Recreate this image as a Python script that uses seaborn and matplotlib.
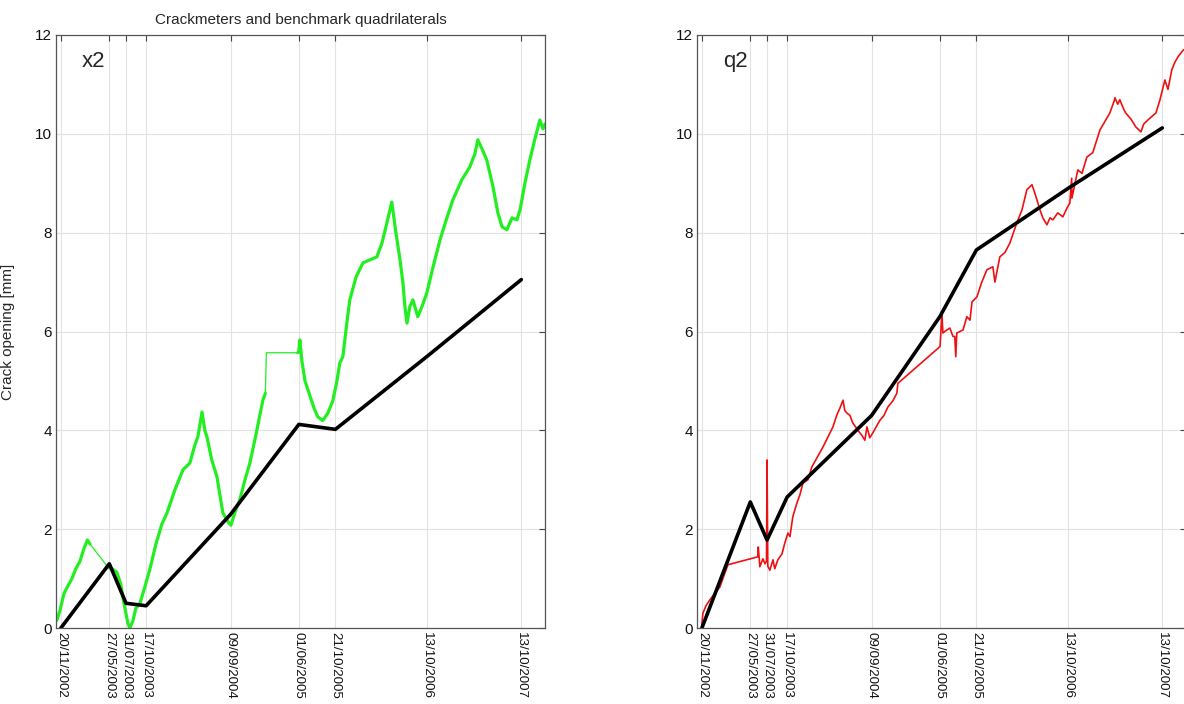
import pandas as pd
import matplotlib
matplotlib.use('Agg')
import matplotlib.pyplot as plt
import matplotlib.dates as mdates
import seaborn as sns

# day 0 = first crackmeter reading
start = pd.Timestamp('2002-11-20')

# benchmark quadrilateral survey dates (also used as x ticks)
survey_dates = ['20/11/2002', '27/05/2003', '31/07/2003', '17/10/2003', '09/09/2004',
                '01/06/2005', '21/10/2005', '13/10/2006', '13/10/2007']
x2_bench = [0.0, 1.3, 0.5, 0.45, 2.3, 4.12, 4.02, 5.5, 7.05]
q2_bench = [0.0, 2.55, 1.78, 2.65, 4.3, 6.3, 7.65, 8.9, 10.12]

# crackmeter x2 (days since start, mm)
x2_days = [-16, -4, 12, 27, 43, 58, 74, 89, 103, 113, 183, 198, 217, 232, 245, 260, 268, 280,
           291, 307, 326, 346, 369, 392, 412, 443, 474, 501, 520, 532, 548, 559, 567, 586, 606,
           629, 649, 660, 680, 695, 715, 734, 757, 784, 794, 798, 920, 924, 928, 936, 948, 967,
           983, 998, 1017, 1037, 1056, 1072, 1083, 1095, 1111, 1122, 1146, 1173, 1200, 1227,
           1247, 1266, 1285, 1301, 1317, 1328, 1336, 1344, 1355, 1367, 1386, 1402, 1421, 1445,
           1472, 1499, 1522, 1557, 1588, 1608, 1619, 1635, 1654, 1678, 1697, 1713, 1732, 1752,
           1771, 1783, 1802, 1821, 1841, 1860, 1872, 1880]
x2_mm = [0.15, 0.35, 0.7, 0.85, 1.0, 1.2, 1.35, 1.6, 1.78, 1.7, 1.23, 1.2, 1.13, 0.9, 0.5, 0.1,
         0.0, 0.15, 0.4, 0.5, 0.83, 1.2, 1.7, 2.1, 2.33, 2.8, 3.2, 3.34, 3.7, 3.87, 4.37, 4.0,
         3.87, 3.4, 3.06, 2.33, 2.15, 2.08, 2.4, 2.6, 3.0, 3.34, 3.9, 4.6, 4.75, 5.57, 5.57, 5.6,
         5.83, 5.4, 5.0, 4.7, 4.45, 4.27, 4.2, 4.35, 4.6, 5.0, 5.36, 5.49, 6.2, 6.64, 7.1, 7.39,
         7.45, 7.51, 7.79, 8.2, 8.62, 8.0, 7.45, 7.0, 6.5, 6.17, 6.5, 6.64, 6.3, 6.5, 6.78, 7.3,
         7.85, 8.3, 8.66, 9.07, 9.33, 9.6, 9.88, 9.7, 9.47, 8.93, 8.4, 8.12, 8.06, 8.3, 8.26,
         8.46, 9.0, 9.47, 9.9, 10.28, 10.1, 10.2]
# periods with no readings (drawn as thin joining line)
x2_gaps = [(113, 183), (794, 920)]

# crackmeter q2 (days since start, mm)
q2_days = [-1, 4, 16, 31, 50, 70, 85, 101, 217, 219, 225, 237, 245, 251, 253, 256, 264, 276, 283,
           295, 311, 322, 334, 342, 353, 369, 381, 392, 412, 427, 470, 509, 524, 536, 548, 555,
           563, 575, 586, 606, 621, 633, 641, 652, 664, 680, 691, 707, 722, 742, 757, 761, 917,
           925, 932, 936, 951, 963, 975, 982, 986, 990, 1002, 1014, 1029, 1041, 1049, 1068,
           1087, 1107, 1130, 1138, 1157, 1177, 1196, 1223, 1243, 1262, 1282, 1293, 1313, 1324,
           1340, 1352, 1363, 1382, 1402, 1418, 1429, 1436, 1437, 1449, 1460, 1476, 1495, 1518,
           1546, 1565, 1584, 1600, 1604, 1615, 1623, 1638, 1646, 1666, 1685, 1705, 1716, 1732,
           1747, 1763, 1779, 1798, 1810, 1825, 1837, 1849, 1870]
q2_mm = [0.03, 0.3, 0.45, 0.57, 0.7, 0.83, 1.05, 1.28, 1.44, 1.64, 1.24, 1.4, 1.3, 1.35, 3.4,
         1.25, 1.17, 1.38, 1.2, 1.38, 1.5, 1.72, 1.92, 1.85, 2.25, 2.53, 2.7, 2.93, 3.0, 3.26,
         3.66, 4.07, 4.31, 4.45, 4.61, 4.4, 4.35, 4.3, 4.15, 4.0, 3.9, 3.8, 4.07, 3.85, 3.95,
         4.1, 4.2, 4.3, 4.47, 4.6, 4.75, 4.95, 5.66, 5.7, 6.37, 5.97, 6.03, 6.07, 5.9, 5.9, 5.49,
         5.97, 6.0, 6.03, 6.3, 6.23, 6.6, 6.7, 7.0, 7.25, 7.31, 7.0, 7.51, 7.6, 7.79, 8.2, 8.46,
         8.87, 8.97, 8.8, 8.46, 8.3, 8.16, 8.3, 8.26, 8.4, 8.32, 8.5, 8.6, 9.1, 8.7, 9.0, 9.27,
         9.2, 9.53, 9.62, 10.08, 10.25, 10.42, 10.65, 10.73, 10.6, 10.69, 10.5, 10.42, 10.3,
         10.14, 10.04, 10.2, 10.28, 10.35, 10.42, 10.69, 11.09, 10.9, 11.3, 11.45, 11.56, 11.7]

sns.set_style('white')
plt.rcParams['font.family'] = ['Liberation Sans', 'DejaVu Sans']

bench_dates = pd.to_datetime(survey_dates, dayfirst=True)


def to_dates(days):
    return start + pd.to_timedelta(days, unit='D')


x2 = pd.DataFrame({'date': to_dates(x2_days), 'mm': x2_mm, 'day': x2_days})
x2['inside'] = [any(g0 < d < g1 for g0, g1 in x2_gaps) for d in x2_days]
x2['seg'] = [sum(d >= g1 for g0, g1 in x2_gaps) for d in x2_days]
q2 = pd.DataFrame({'date': to_dates(q2_days), 'mm': q2_mm})

fig = plt.figure(figsize=(11.84, 7.04), dpi=100)
ax1 = fig.add_axes([56 / 1184, 76 / 704, 489 / 1184, 593 / 704])
ax2 = fig.add_axes([697 / 1184, 76 / 704, 489 / 1184, 593 / 704])

# left: x2
sns.lineplot(data=x2, x='date', y='mm', ax=ax1, color='#22ee22', lw=0.9, estimator=None)
sns.lineplot(data=x2[~x2['inside']], x='date', y='mm', units='seg', ax=ax1,
             color='#22ee22', lw=2.3, estimator=None)
sns.lineplot(x=bench_dates, y=x2_bench, ax=ax1, color='black', lw=2.6, estimator=None)

# right: q2
sns.lineplot(data=q2, x='date', y='mm', ax=ax2, color='#ee1111', lw=1.2, estimator=None)
sns.lineplot(x=bench_dates, y=q2_bench, ax=ax2, color='black', lw=2.6, estimator=None)

xmin = start - pd.Timedelta(days=19)
xmax = start + pd.Timedelta(days=1880)
for ax, name in [(ax1, 'x2'), (ax2, 'q2')]:
    ax.set_xlim(xmin, xmax)
    ax.set_ylim(0, 12)
    ax.set_yticks([0, 2, 4, 6, 8, 10, 12])
    ax.set_xticks(mdates.date2num(bench_dates))
    ax.set_xticklabels(survey_dates, rotation=-90, fontsize=9.6, va='top', ha='center')
    ax.tick_params(axis='y', labelsize=11)
    ax.tick_params(direction='in', top=True, right=True, length=4, width=0.8,
                   color='#444444', pad=3, labelcolor='#111111')
    ax.grid(True, color='#e2e2e2', lw=0.8)
    for sp in ax.spines.values():
        sp.set_color('#555555')
        sp.set_linewidth(0.9)
    ax.set_xlabel('')
    ax.set_ylabel('')
    ax.text(0.053, 0.955, name, transform=ax.transAxes, fontsize=16, va='center', ha='left')

ax1.set_title('Crackmeters and benchmark quadrilaterals', fontsize=11, pad=8)
ax1.set_ylabel('Crack opening [mm]', fontsize=11)
ax1.yaxis.set_label_coords(-0.084, 0.5)

fig.savefig('out.png', dpi=100)
